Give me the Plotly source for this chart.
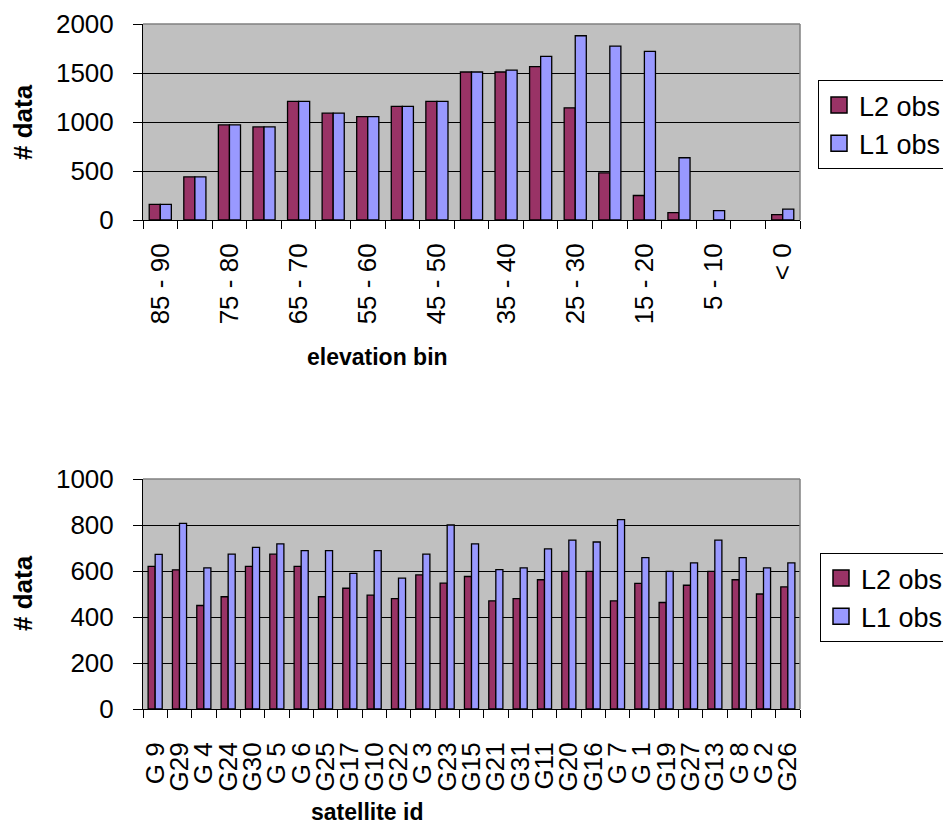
import plotly.graph_objects as go
from plotly.subplots import make_subplots

# Observation counts per elevation bin
elev_bins = ["85 - 90", "80 - 85", "75 - 80", "70 - 75", "65 - 70", "60 - 65",
             "55 - 60", "50 - 55", "45 - 50", "40 - 45", "35 - 40", "30 - 35",
             "25 - 30", "20 - 25", "15 - 20", "10 - 15", "5 - 10", "0 - 5", "< 0"]
elev_l2 = [160, 440, 970, 950, 1210, 1090, 1055, 1160, 1210, 1510,
           1510, 1565, 1145, 480, 250, 75, 0, 0, 55]
elev_l1 = [160, 440, 970, 950, 1210, 1090, 1055, 1160, 1210, 1510,
           1530, 1670, 1880, 1775, 1720, 635, 95, 0, 110]

# Observation counts per satellite
sat_ids = ["G 9", "G29", "G 4", "G24", "G30", "G 5", "G 6", "G25", "G17", "G10",
           "G22", "G 3", "G23", "G15", "G21", "G31", "G11", "G20", "G16", "G 7",
           "G 1", "G19", "G27", "G13", "G 8", "G 2", "G26"]
sat_l2 = [620, 605, 450, 488, 620, 673, 620, 488, 525, 495,
          480, 583, 547, 576, 470, 480, 562, 598, 598, 470,
          546, 463, 538, 598, 562, 500, 531]
sat_l1 = [672, 807, 614, 673, 703, 718, 689, 689, 590, 689,
          569, 673, 800, 718, 606, 614, 696, 734, 726, 823,
          658, 598, 635, 734, 658, 614, 635]

series_names = ["L2 obs", "L1 obs"]
L2_COLOR = "#993366"
L1_COLOR = "#9999FF"
FONT = "Liberation Sans, Arial, sans-serif"
W, H = 943, 825

fig = make_subplots(rows=2, cols=1)


def outline(vals):
    # empty bins get no outline so nothing is drawn on the baseline
    return dict(color="black", width=[1.3 if v > 0 else 0 for v in vals])


def add_pair(cats, l2, l1, row, w):
    fig.add_trace(go.Bar(x=cats, y=l2, name=series_names[0],
                         marker=dict(color=L2_COLOR, line=outline(l2)),
                         width=w, offset=-w, showlegend=False), row=row, col=1)
    fig.add_trace(go.Bar(x=cats, y=l1, name=series_names[1],
                         marker=dict(color=L1_COLOR, line=outline(l1)),
                         width=w, offset=0.0, showlegend=False), row=row, col=1)


add_pair(elev_bins, elev_l2, elev_l1, 1, 0.32)
add_pair(sat_ids, sat_l2, sat_l1, 2, 0.29)

# legend entries with square swatches
for leg in ["legend", "legend2"]:
    for i, (nm, col) in enumerate(zip(series_names, [L2_COLOR, L1_COLOR])):
        fig.add_trace(go.Scatter(x=[None], y=[None], mode="markers", name=nm,
                                 marker=dict(symbol="square", size=16, color=col,
                                             line=dict(color="black", width=1.5)),
                                 legend=leg, legendgroup=f"{leg}{i}",
                                 hoverinfo="skip"), row=1 if leg == "legend" else 2, col=1)

x0, x1 = 143 / W, 800 / W
tick_font = dict(family=FONT, size=26, color="black")
legend_style = dict(xanchor="left", yanchor="top", bordercolor="black", borderwidth=1,
                    bgcolor="white", font=dict(family=FONT, size=27, color="black"),
                    tracegroupgap=6, traceorder="normal", itemwidth=30)

fig.update_layout(
    width=W, height=H,
    margin=dict(l=0, r=0, t=0, b=0, autoexpand=False),
    paper_bgcolor="white",
    plot_bgcolor="#C0C0C0",
    barmode="overlay",
    font=dict(family=FONT, color="black"),
    showlegend=True,
    legend=dict(x=818 / W, y=1 - 80 / H, **legend_style),
    legend2=dict(x=820 / W, y=1 - 553 / H, **legend_style),
)

fig.update_xaxes(domain=[x0, x1], row=1, col=1)
fig.update_xaxes(domain=[x0, x1], row=2, col=1)
fig.update_yaxes(domain=[1 - 220 / H, 1 - 24 / H], row=1, col=1)
fig.update_yaxes(domain=[1 - 709 / H, 1 - 479 / H], row=2, col=1)

# category axes: ticks on the bin boundaries, vertical labels
fig.update_xaxes(
    type="category", tickson="boundaries", ticks="outside", ticklen=8, tickcolor="black",
    showline=True, linecolor="black", linewidth=1, showgrid=False, tickangle=-90,
    tickfont=tick_font, ticklabelstandoff=12, fixedrange=True, automargin=False,
)
fig.update_xaxes(tickvals=elev_bins,
                 ticktext=[b if i % 2 == 0 else "" for i, b in enumerate(elev_bins)],
                 range=[-0.5, len(elev_bins) - 0.5], row=1, col=1)
fig.update_xaxes(tickvals=sat_ids, ticktext=sat_ids,
                 range=[-0.5, len(sat_ids) - 0.5], ticklabelstandoff=22, row=2, col=1)

fig.update_yaxes(
    ticks="outside", ticklen=9, tickcolor="black", showline=True, linecolor="black",
    linewidth=1, showgrid=True, gridcolor="black", gridwidth=1, zeroline=False,
    tickfont=tick_font, ticklabelstandoff=14, automargin=False,
)
fig.update_yaxes(range=[0, 2000], dtick=500, row=1, col=1)
fig.update_yaxes(range=[0, 1000], dtick=200, row=2, col=1)

# gray frame along the top and right of each plot area
for xr, yr in [("x", "y"), ("x2", "y2")]:
    fig.add_shape(type="line", xref=f"{xr} domain", yref=f"{yr} domain",
                  x0=0, x1=1, y0=1, y1=1, line=dict(color="#808080", width=1.5))
    fig.add_shape(type="line", xref=f"{xr} domain", yref=f"{yr} domain",
                  x0=1, x1=1, y0=0, y1=1, line=dict(color="#808080", width=1.5))


def title(text, x, y, size, angle=0):
    fig.add_annotation(text=f"<b>{text}</b>", textangle=angle, x=x / W, y=1 - y / H,
                       xref="paper", yref="paper", xanchor="center", yanchor="middle",
                       showarrow=False, font=dict(family=FONT, size=size, color="black"))


title("# data", 23, 122, 26, -90)
title("# data", 23, 593, 26, -90)
title("elevation bin", 377, 357, 23)
title("satellite id", 367, 812, 23)

fig.write_html("out.html")
